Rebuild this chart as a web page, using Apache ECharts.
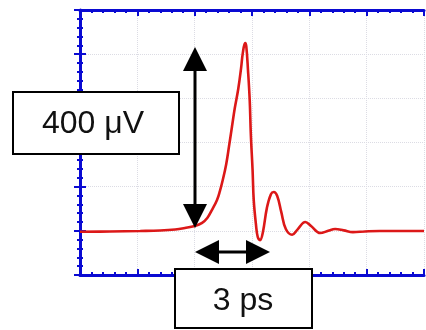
<!DOCTYPE html>
<html>
<head>
<meta charset="utf-8">
<script src="https://cdn.jsdelivr.net/npm/echarts@6/dist/echarts.min.js"></script>
<style>
  html, body { margin: 0; padding: 0; background: #fff; }
  #chart { width: 426px; height: 330px; }
</style>
</head>
<body>
<div id="chart"></div>
<script>
// time in screen divisions, signal in μV
const timeDiv = [0, 0.52, 1.05, 1.4, 1.66, 1.83, 2.0, 2.13, 2.22, 2.3, 2.39, 2.44, 2.49, 2.55, 2.6, 2.65, 2.7, 2.76, 2.81, 2.84, 2.88, 2.9, 2.93, 2.96, 2.98, 3.01, 3.03, 3.07, 3.1, 3.14, 3.19, 3.26, 3.33, 3.38, 3.44, 3.51, 3.59, 3.7, 3.8, 3.93, 4.03, 4.19, 4.33, 4.45, 4.6, 4.76, 4.97, 5.23, 5.58, 6.0]
const signal = [98, 98.5, 99.6, 100.7, 103, 106.4, 111, 118, 129, 147, 170, 190, 215, 251, 292, 335, 378, 421, 469, 503, 525, 518, 464, 396, 317, 238, 170, 113, 86, 79, 97, 152, 183, 188, 179, 143, 104, 91, 104, 120, 111, 95, 100, 104, 101, 97, 98.5, 99.6, 99.6, 99.6]

const blue = '#0a0ad2'
const chart = echarts.init(document.getElementById('chart'))

const tick = {
  axisTick: { show: true, inside: true, length: 6, lineStyle: { color: blue, width: 2 } },
  minorTick: { show: true, splitNumber: 5, length: 3, lineStyle: { color: blue, width: 2 } },
  axisLabel: { show: false },
}
const split = { show: true, lineStyle: { color: '#dcdce4', type: 'dotted', width: 1 } }

function arrowHead(tip, dir) {
  // dir: 'up' | 'down' | 'left' | 'right'
  const [x, y] = tip
  const l = 24, h = 12
  let pts
  if (dir === 'up') pts = [[x, y], [x - h, y + l], [x + h, y + l]]
  if (dir === 'down') pts = [[x, y], [x - h, y - l], [x + h, y - l]]
  if (dir === 'left') pts = [[x, y], [x + l, y - h], [x + l, y + h]]
  if (dir === 'right') pts = [[x, y], [x - l, y - h], [x - l, y + h]]
  return { type: 'polygon', z: 20, shape: { points: pts }, style: { fill: '#000' } }
}

const boxStyle = { fill: '#fff', stroke: '#000', lineWidth: 2 }
const textStyle = { fill: '#111', font: '32px "Liberation Sans", Arial, sans-serif', align: 'center', verticalAlign: 'middle' }

chart.setOption({
  animation: false,
  backgroundColor: '#fff',
  grid: { left: 80, right: 2, top: 10, bottom: 55 },
  xAxis: [
    {
      type: 'value', min: 0, max: 6, interval: 1, position: 'bottom',
      axisLine: { show: true, onZero: false, lineStyle: { color: blue, width: 3 } },
      splitLine: split,
      ...tick,
    },
    {
      type: 'value', min: 0, max: 6, interval: 1, position: 'top',
      axisLine: { show: true, onZero: false, lineStyle: { color: blue, width: 3 } },
      splitLine: { show: false },
      ...tick,
    },
  ],
  yAxis: [
    {
      type: 'value', min: 0, max: 600, interval: 100, position: 'left',
      axisLine: { show: true, onZero: false, lineStyle: { color: blue, width: 3 } },
      splitLine: split,
      ...tick,
    },
    {
      type: 'value', min: 0, max: 600, interval: 100, position: 'right',
      axisLine: { show: false },
      splitLine: { show: false },
      ...tick,
    },
  ],
  series: [
    {
      type: 'line',
      xAxisIndex: 0,
      yAxisIndex: 0,
      data: timeDiv.map((t, i) => [t, signal[i]]),
      smooth: 0.4,
      showSymbol: false,
      lineStyle: { color: '#dc1818', width: 2.6 },
      z: 5,
    },
  ],
  graphic: [
    // vertical 400 μV arrow
    { type: 'line', z: 20, shape: { x1: 195, y1: 66, x2: 195, y2: 210 }, style: { stroke: '#000', lineWidth: 3 } },
    arrowHead([195, 47], 'up'),
    arrowHead([195, 228], 'down'),
    // horizontal 3 ps arrow
    { type: 'line', z: 20, shape: { x1: 214, y1: 252, x2: 251, y2: 252 }, style: { stroke: '#000', lineWidth: 3 } },
    arrowHead([195, 252], 'left'),
    arrowHead([270, 252], 'right'),
    // label boxes
    { type: 'rect', z: 30, shape: { x: 13, y: 92, width: 166, height: 62 }, style: boxStyle },
    { type: 'text', z: 31, x: 93, y: 124, style: { text: '400 μV', ...textStyle } },
    { type: 'rect', z: 30, shape: { x: 175, y: 269, width: 137, height: 59 }, style: boxStyle },
    { type: 'text', z: 31, x: 243, y: 301, style: { text: '3 ps', ...textStyle } },
  ],
})
</script>
</body>
</html>
